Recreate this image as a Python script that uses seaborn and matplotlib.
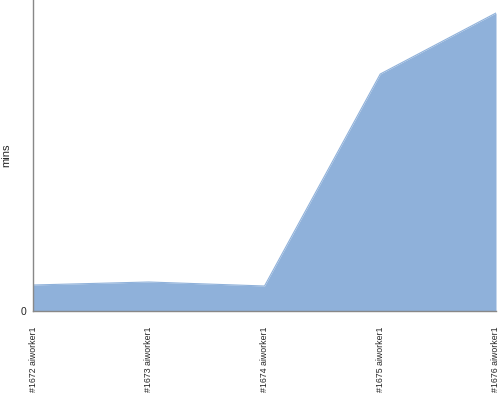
import numpy as np
import pandas as pd
import seaborn as sns
import matplotlib
matplotlib.use("Agg")
import matplotlib.pyplot as plt

# data (minutes)
builds = ["#1672 aiworker1", "#1673 aiworker1", "#1674 aiworker1",
          "#1675 aiworker1", "#1676 aiworker1"]
mins = [2.6, 2.9, 2.5, 23.7, 29.8]

df = pd.DataFrame({"build": builds, "mins": mins})
df["pos"] = range(len(df))

sns.set_style("white")
plt.rcParams['font.family'] = ['Liberation Sans', 'DejaVu Sans']

fig = plt.figure(figsize=(5, 4), dpi=100)
ax = fig.add_axes([0.066, 0.2225, 0.926, 0.7775])

fill = "#8fb1da"
sns.lineplot(data=df, x="pos", y="mins", ax=ax, color=fill, linewidth=0.8)
ax.fill_between(df["pos"], 0, df["mins"], color=fill, linewidth=0)

ax.set_xlim(0, len(df) - 1)
ax.set_ylim(0, 31.1)
ax.set_xticks(df["pos"])
ax.set_xticklabels(df["build"], rotation=90, fontsize=6.3)
ax.set_yticks([0])
ax.set_yticklabels(["0"], fontsize=7.5)
ax.tick_params(axis="x", length=0, pad=11)
ax.tick_params(axis="y", length=3, color="#888888", pad=2)
ax.set_xlabel("")
ax.set_ylabel("mins", fontsize=8)
ax.yaxis.set_label_coords(-0.047, 0.5)

for side in ["top", "right"]:
    ax.spines[side].set_visible(False)
for side in ["left", "bottom"]:
    ax.spines[side].set_color("#888888")
    ax.spines[side].set_linewidth(1)

fig.savefig("out.png", dpi=100)
